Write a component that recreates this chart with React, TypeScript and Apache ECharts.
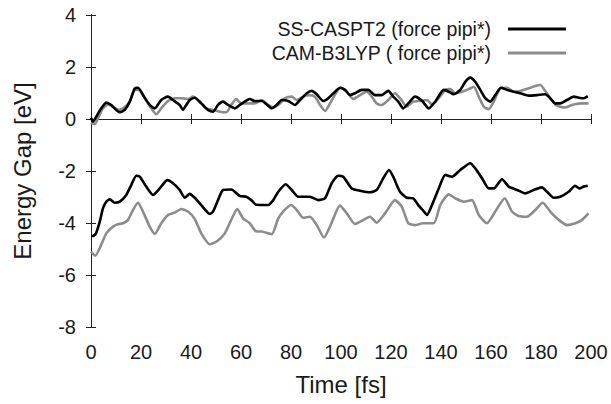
import React, { useEffect, useRef } from "react";
import * as echarts from "echarts";

const xTicks = [0, 20, 40, 60, 80, 100, 120, 140, 160, 180, 200];
const yTicks = [4, 2, 0, -2, -4, -6, -8];
const seriesNames = ["SS-CASPT2 (force pipi*)", "CAM-B3LYP ( force pipi*)"];

const casptUpper: [number, number][] = [
  [0, 0.05], [0.8, -0.1], [2.1, 0.09], [4.1, 0.41], [6.1, 0.63], [8.1, 0.54], [10.1, 0.35], [11.5, 0.26], [13.5, 0.35], [15.5, 0.67],
  [17.5, 1.18], [18.8, 1.2], [20.8, 0.92], [23.5, 0.54], [25.5, 0.41], [28.1, 0.73], [30.8, 0.86], [32.8, 0.73], [35.5, 0.54], [36.8, 0.35],
  [38.1, 0.54], [39.5, 0.73], [41.5, 0.82], [44.1, 0.6], [46.8, 0.35], [48.8, 0.28], [50.8, 0.54], [52.8, 0.67], [54.8, 0.54], [57.5, 0.41],
  [59.5, 0.54], [61.5, 0.67], [63.5, 0.77], [65.5, 0.69], [68.3, 0.69], [70.3, 0.56], [72.3, 0.41], [74.3, 0.54], [76.3, 0.73], [78.9, 0.69],
  [81.6, 0.54], [83.6, 0.73], [86.3, 0.99], [88.3, 1.08], [90.3, 0.95], [92.9, 0.69], [94.9, 0.8], [97.6, 1.05], [99.6, 1.2], [101.6, 1.12],
  [103.6, 0.92], [105.6, 0.99], [108.3, 1.12], [110.9, 1.12], [113.6, 0.92], [116.3, 0.92], [118.9, 1.08], [120.9, 0.86], [122.9, 0.67], [124.9, 0.41],
  [126.9, 0.6], [129.6, 0.86], [132.4, 0.7], [135.1, 0.41], [137.7, 0.67], [141.1, 1.12], [143.1, 1.05], [145.1, 0.95], [147.7, 1.12], [149.7, 1.43],
  [151.7, 1.59], [153.7, 1.43], [155.7, 1.12], [157.7, 0.8], [159.7, 0.67], [161.7, 0.92], [164, 1.2], [166.4, 1.12], [169.1, 1.05], [171.7, 0.99],
  [175.1, 0.9], [178.4, 0.92], [181.7, 0.95], [183.7, 0.8], [185.7, 0.6], [187.7, 0.6], [190.4, 0.73], [193.1, 0.86], [195.1, 0.82], [197.1, 0.8],
  [198.7, 0.88],
];

const b3lypUpper: [number, number][] = [
  [0, -0.15], [1.5, -0.2], [2.8, 0.03], [4.8, 0.41], [6.8, 0.56], [8.8, 0.47], [10.8, 0.35], [12.8, 0.41], [15.5, 0.67], [17.5, 1.12],
  [19.5, 1.12], [21.5, 0.8], [24.1, 0.41], [26.1, 0.18], [28.1, 0.41], [30.8, 0.69], [33.5, 0.8], [36.1, 0.8], [38.8, 0.77], [40.8, 0.86],
  [43.5, 0.67], [46.1, 0.41], [48.8, 0.35], [51.5, 0.28], [54.1, 0.26], [56.1, 0.54], [58.1, 0.77], [60.1, 0.6], [62.8, 0.6], [65.5, 0.6],
  [68.3, 0.73], [70.9, 0.54], [72.9, 0.44], [75.6, 0.6], [77.6, 0.8], [80.3, 0.86], [82.3, 0.73], [84.9, 0.86], [86.9, 0.92], [89.6, 0.86],
  [91.6, 0.54], [93.6, 0.31], [95.6, 0.6], [98.3, 1.05], [100, 1.2], [102.3, 1.05], [104.9, 0.77], [107.6, 0.92], [110.3, 1.05], [112.3, 0.86],
  [114.3, 0.6], [116.3, 0.54], [118.9, 0.73], [121.6, 0.99], [123.6, 0.8], [126.3, 0.47], [128.9, 0.67], [132.3, 0.7], [134.4, 0.73], [136.4, 0.56],
  [139.1, 0.8], [141.7, 1.12], [143.7, 1.15], [145.7, 0.99], [148.4, 1.05], [151.1, 1.15], [153.1, 1.24], [155.1, 0.86], [157.1, 0.47], [159.1, 0.38],
  [161.1, 0.67], [163.7, 1.18], [166.4, 1.2], [169.1, 1.05], [171.7, 1.08], [175.1, 1.18], [177.7, 1.27], [179.7, 1.31], [181.7, 1.08], [183.7, 0.8],
  [185.7, 0.56], [187.7, 0.47], [189.7, 0.44], [192.4, 0.54], [195.7, 0.6], [199, 0.6],
];

const casptLower: [number, number][] = [
  [0, -4.5], [0.8, -4.5], [2, -4.4], [3.5, -3.95], [4.8, -3.43], [6.1, -3.18], [7.5, -3.09], [9.5, -3.22], [11.5, -3.18], [14.1, -2.92],
  [16.1, -2.54], [18.1, -2.18], [19.5, -2.22], [22.1, -2.6], [24.8, -2.92], [27.5, -2.67], [30.5, -2.35], [32.8, -2.47], [35.5, -2.73], [37.5, -3.03],
  [39.5, -2.88], [41.5, -3.03], [44.1, -3.31], [47.5, -3.65], [48.8, -3.56], [50.8, -3.12], [52.8, -2.73], [56.1, -2.71], [59.5, -2.96], [62.1, -2.99],
  [64.1, -3.12], [66.1, -3.3], [70.9, -3.31], [72.9, -3.12], [74.9, -2.8], [77.9, -2.51], [80.3, -2.73], [82.9, -2.99], [87.6, -2.99], [90.9, -3.12],
  [93.6, -3.05], [96.3, -2.47], [98.9, -2.18], [100.9, -2.22], [104.3, -2.67], [107.6, -2.76], [111.6, -2.82], [114.3, -2.73], [116.9, -2.28], [119.2, -1.96],
  [120.9, -2.22], [123.6, -2.8], [126.3, -3.03], [128.9, -3.05], [130.9, -3.31], [132.7, -3.5], [134.4, -3.69], [136.4, -3.31], [139.1, -2.67], [141.7, -2.15],
  [144.4, -2.22], [147.7, -1.96], [151.7, -1.7], [153.7, -1.9], [156.4, -2.28], [159.1, -2.67], [161.1, -2.67], [164.4, -2.32], [167.1, -2.6], [170.4, -2.73],
  [173.7, -2.86], [177.1, -2.73], [180.4, -2.63], [182.4, -2.8], [185.1, -3.03], [187.7, -2.99], [191.1, -2.8], [193.7, -2.57], [195.3, -2.67], [197.1, -2.6],
  [198.7, -2.57],
];

const b3lypLower: [number, number][] = [
  [0, -5.1], [1.7, -5.26], [3.5, -4.97], [6.1, -4.4], [8.8, -4.14], [10.8, -4.05], [12.8, -4.01], [14.8, -3.88], [16.8, -3.5], [18.8, -3.22],
  [20.8, -3.56], [23.5, -4.14], [25.5, -4.42], [28.1, -4.01], [30.8, -3.69], [33.5, -3.6], [36.1, -3.46], [38.8, -3.56], [41.5, -3.85], [44.1, -4.4],
  [47.5, -4.82], [50.1, -4.72], [53.5, -4.4], [56.1, -3.88], [58.5, -3.46], [60.8, -3.82], [63.5, -4.01], [66, -4.32], [68.3, -4.33], [72.3, -4.43],
  [74.9, -3.82], [76.9, -3.56], [80, -3.31], [82.3, -3.5], [84.9, -3.8], [87.6, -3.76], [90.3, -4.08], [93.2, -4.56], [95.6, -4.14], [99.6, -3.33],
  [102.3, -3.63], [105.6, -4.04], [108.3, -3.92], [111.6, -3.76], [114.3, -3.99], [117.6, -3.63], [121.6, -3.12], [124.3, -3.37], [126.9, -4.01], [129.6, -4.08],
  [132.7, -4.01], [137.1, -4.01], [139.7, -3.31], [143.1, -2.9], [145.7, -3.05], [149.1, -3.18], [152.4, -3.12], [155.1, -3.69], [158.4, -4.01], [161.7, -3.56],
  [165.5, -3.05], [168.4, -3.56], [171.1, -3.73], [174.4, -3.76], [177.7, -3.5], [180.7, -3.22], [183.7, -3.56], [187.1, -3.88], [190.4, -4.08], [193.7, -4.01],
  [196.4, -3.88], [199, -3.63],
];

const BLACK = "#000000";
const GRAY = "#8c8c8c";
const FONT = "Liberation Sans";
const TEXT = "#1a1a1a";

export default function App() {
  const ref = useRef<HTMLDivElement>(null);
  useEffect(() => {
    if (!ref.current) return;
    const chart = echarts.init(ref.current, null, { renderer: "svg" });
    const axisLine = { show: true, lineStyle: { color: "#222", width: 1 } };
    const tick = { show: true, inside: true, length: 5, lineStyle: { color: "#222" } };
    const lineSeries = (name: string, data: [number, number][], color: string) => ({
      type: "line",
      name,
      data,
      symbol: "none",
      showSymbol: false,
      smooth: 0.2,
      lineStyle: { color, width: 2.6 },
      itemStyle: { color },
      z: color === BLACK ? 3 : 2,
    });
    const legendCommon = {
      right: 45,
      align: "right",
      padding: 0,
      icon: "rect",
      itemWidth: 58,
      itemHeight: 3,
      textStyle: { fontFamily: FONT, fontSize: 19.5, color: TEXT, padding: [0, 12, 0, 0] },
    };
    chart.setOption({
      animation: false,
      textStyle: { fontFamily: FONT },
      grid: { left: 91, right: 20, top: 15, bottom: 77, containLabel: false },
      legend: [
        { ...legendCommon, data: [seriesNames[0]], top: 19 },
        { ...legendCommon, data: [seriesNames[1]], top: 43 },
      ],
      xAxis: [
        {
          type: "value",
          min: 0,
          max: 200,
          interval: 20,
          position: "bottom",
          name: "Time [fs]",
          nameLocation: "middle",
          nameGap: 45,
          nameTextStyle: { fontFamily: FONT, fontSize: 24, color: TEXT },
          axisLine,
          axisTick: tick,
          axisLabel: { fontFamily: FONT, fontSize: 20, color: TEXT, margin: 15, formatter: (v: number) => (xTicks.includes(v) ? String(v) : "") },
          splitLine: { show: false },
        },
        {
          type: "value",
          min: 0,
          max: 200,
          interval: 20,
          position: "top",
          axisLine,
          axisTick: tick,
          axisLabel: { show: false },
          splitLine: { show: false },
        },
      ],
      yAxis: [
        {
          type: "value",
          min: -8,
          max: 4,
          interval: 2,
          position: "left",
          name: "Energy Gap [eV]",
          nameLocation: "middle",
          nameGap: 57,
          nameTextStyle: { fontFamily: FONT, fontSize: 24, color: TEXT },
          axisLine,
          axisTick: tick,
          axisLabel: { fontFamily: FONT, fontSize: 20, color: TEXT, margin: 15, formatter: (v: number) => (yTicks.includes(v) ? String(v) : "") },
          splitLine: { show: false },
        },
        {
          type: "value",
          min: -8,
          max: 4,
          interval: 2,
          position: "right",
          axisLine,
          axisTick: tick,
          axisLabel: { show: false },
          splitLine: { show: false },
        },
      ],
      series: [
        lineSeries(seriesNames[1], b3lypUpper, GRAY),
        lineSeries(seriesNames[1], b3lypLower, GRAY),
        lineSeries(seriesNames[0], casptUpper, BLACK),
        lineSeries(seriesNames[0], casptLower, BLACK),
      ],
    });
    return () => chart.dispose();
  }, []);
  return <div ref={ref} style={{ position: "absolute", left: 0, top: 0, width: 611, height: 404 }} />;
}
